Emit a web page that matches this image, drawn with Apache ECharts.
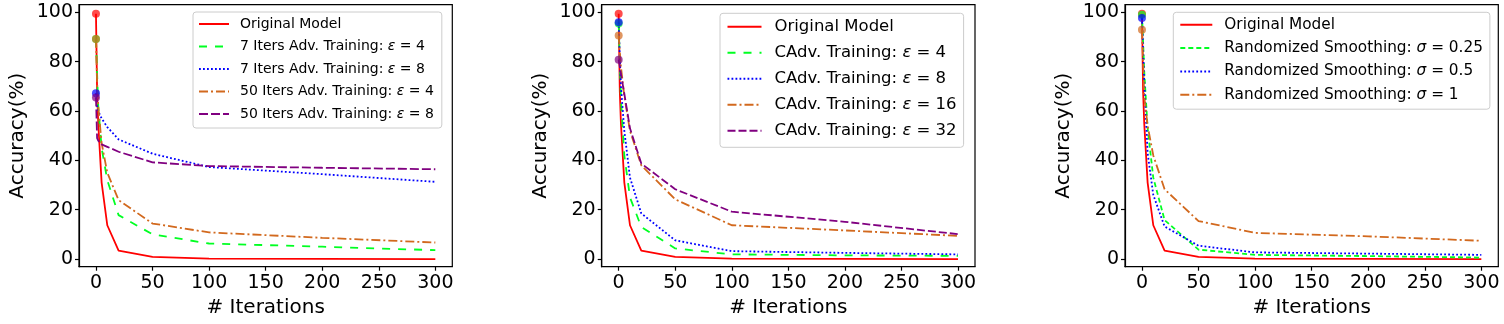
<!DOCTYPE html>
<html>
<head>
<meta charset="utf-8">
<script src="https://cdn.jsdelivr.net/npm/echarts@6/dist/echarts.min.js"></script>
<style>
html,body{margin:0;padding:0;background:#fff;}
#c{width:1504px;height:324px;}
</style>
</head>
<body>
<div id="c"></div>
<script>
// ---- data ----
const iters = [0, 1, 2, 5, 10, 20, 50, 100, 200, 300];
const xTicks = [0, 50, 100, 150, 200, 250, 300];
const yTicks = [0, 20, 40, 60, 80, 100];

const original = [99.4, 68, 55, 31, 13.7, 3.4, 0.9, 0.2, 0.1, 0.0];

// panel 1
const adv7e4  = [89.2, 75, 62, 45, 32, 17.8, 10.0, 6.3, 5.0, 3.6];
const adv7e8  = [67.2, 62, 60, 57, 53.5, 48.5, 42.7, 37.3, 34.4, 31.3];
const adv50e4 = [89.2, 72, 62, 47, 35, 23.9, 14.4, 10.8, 8.6, 6.7];
const adv50e8 = [65.5, 49, 48, 46.5, 45.5, 43.5, 39.2, 37.7, 37.0, 36.4];

// panel 2
const cadv4  = [95.5, 80, 65, 42, 25, 13.0, 4.3, 1.9, 1.5, 1.3];
const cadv8  = [96.0, 82, 70, 52, 33, 18.5, 7.6, 3.2, 2.5, 1.9];
const cadv16 = [90.6, 84, 78, 66, 52, 38.0, 24.2, 13.7, 11.6, 9.4];
const cadv32 = [80.8, 78, 75, 67, 53, 38.7, 28.3, 19.2, 15.1, 10.1];

// panel 3
const rs025 = [99.0, 88, 76, 53, 33, 15.8, 3.8, 1.7, 1.2, 0.6];
const rs05  = [97.7, 85, 72, 43, 26, 13.2, 5.4, 2.7, 2.2, 1.7];
const rs1   = [92.9, 80, 66, 54, 42, 28.3, 15.4, 10.6, 9.2, 7.4];

const names1 = ['Original Model', '7 Iters Adv. Training: ε = 4', '7 Iters Adv. Training: ε = 8', '50 Iters Adv. Training: ε = 4', '50 Iters Adv. Training: ε = 8'];
const names2 = ['Original Model', 'CAdv. Training: ε = 4', 'CAdv. Training: ε = 8', 'CAdv. Training: ε = 16', 'CAdv. Training: ε = 32'];
const names3 = ['Original Model', 'Randomized Smoothing: σ = 0.25', 'Randomized Smoothing: σ = 0.5', 'Randomized Smoothing: σ = 1'];

// ---- styles ----
const RED = '#ff0000', GREEN = '#00ff22', BLUE = '#0000ff', ORANGE = '#d2691e', PURPLE = '#800080';
const FONT = 'DejaVu Sans';
const LW = 1.8;

const panels = [
  { left: 79, names: names1, data: [original, adv7e4, adv7e8, adv50e4, adv50e8],
    colors: [RED, GREEN, BLUE, ORANGE, PURPLE],
    dashes: ['solid', [8, 8], [1.8, 2.2], [9, 3, 2, 3], [9, 3]],
    legend: { left: 193, top: 12, fs: 14, ih: 14, iw: 30, gap: 8.5, pad: [5, 8, 7, 5], tpad: 6 } },
  { left: 601.7, names: names2, data: [original, cadv4, cadv8, cadv16, cadv32],
    colors: [RED, GREEN, BLUE, ORANGE, PURPLE],
    dashes: ['solid', [8, 8], [1.8, 2.2], [9, 3, 2, 3], [8, 3]],
    legend: { left: 720, top: 13.3, fs: 16.5, ih: 16, iw: 34, gap: 9, pad: [5, 7, 8, 6.5], tpad: 8 } },
  { left: 1125, names: names3, data: [original, rs025, rs05, rs1],
    colors: [RED, GREEN, BLUE, ORANGE],
    dashes: ['solid', [5, 3], [1.8, 2.2], [9, 3, 2, 3]],
    legend: { left: 1173.3, top: 12.3, fs: 15.3, ih: 15, iw: 32, gap: 8.3, pad: [5, 7, 7, 6], tpad: 7 } }
];

const grid = [], xAxis = [], yAxis = [], series = [], legend = [];
panels.forEach((p, gi) => {
  grid.push({ left: p.left, top: 4.7, width: 373.3, height: 262, show: true,
    borderColor: '#000', borderWidth: 1.2, backgroundColor: 'transparent' });
  xAxis.push({ type: 'value', gridIndex: gi, min: -15, max: 315,
    name: '# Iterations', nameLocation: 'middle', nameGap: 31,
    nameTextStyle: { fontFamily: FONT, fontSize: 20, color: '#000' },
    axisLine: { show: true, onZero: false, lineStyle: { color: '#000', width: 1.2 } },
    axisTick: { show: true, length: 4, customValues: xTicks, lineStyle: { color: '#000', width: 1.2 } },
    axisLabel: { customValues: xTicks, fontFamily: FONT, fontSize: 19, color: '#000', margin: 7 },
    splitLine: { show: false } });
  yAxis.push({ type: 'value', gridIndex: gi, min: -3.1, max: 103.1,
    name: 'Accuracy(%)', nameLocation: 'middle', nameGap: 51,
    nameTextStyle: { fontFamily: FONT, fontSize: 20, color: '#000' },
    axisLine: { show: true, onZero: false, lineStyle: { color: '#000', width: 1.2 } },
    axisTick: { show: true, length: 4, customValues: yTicks, lineStyle: { color: '#000', width: 1.2 } },
    axisLabel: { customValues: yTicks, fontFamily: FONT, fontSize: 19, color: '#000', margin: 6 },
    splitLine: { show: false } });
  p.data.forEach((arr, si) => {
    series.push({ type: 'line', name: p.names[si], xAxisIndex: gi, yAxisIndex: gi,
      data: iters.map((x, k) => [x, arr[k]]), symbol: 'none', z: 2 + si,
      lineStyle: { color: p.colors[si], width: LW, type: p.dashes[si] },
      itemStyle: { color: p.colors[si] }, animation: false });
  });
  p.data.forEach((arr, si) => {
    series.push({ type: 'scatter', xAxisIndex: gi, yAxisIndex: gi,
      data: [[iters[0], arr[0]]], symbolSize: 8, z: 20 + si,
      itemStyle: { color: p.colors[si], opacity: 0.7 }, animation: false, silent: true });
  });
  const L = p.legend;
  legend.push({ data: p.names, orient: 'vertical', left: L.left, top: L.top,
    itemWidth: L.iw, itemHeight: L.ih, itemGap: L.gap, padding: L.pad,
    backgroundColor: 'rgba(255,255,255,0.8)', borderColor: '#cccccc', borderWidth: 1, borderRadius: 3,
    selectedMode: false,
    itemStyle: { color: 'rgba(0,0,0,0)', borderColor: 'rgba(0,0,0,0)', borderWidth: 0, opacity: 0 },
    textStyle: { fontFamily: FONT, fontSize: L.fs, color: '#000', padding: [0, 0, 0, L.tpad],
      rich: { i: { fontFamily: FONT, fontSize: L.fs, fontStyle: 'italic', color: '#000' } } },
    formatter: n => n.replace(/([εσ])/, '{i|$1}') });
});

const chart = echarts.init(document.getElementById('c'), null, { renderer: 'canvas' });
chart.setOption({ animation: false, grid, xAxis, yAxis, series, legend });
</script>
</body>
</html>
